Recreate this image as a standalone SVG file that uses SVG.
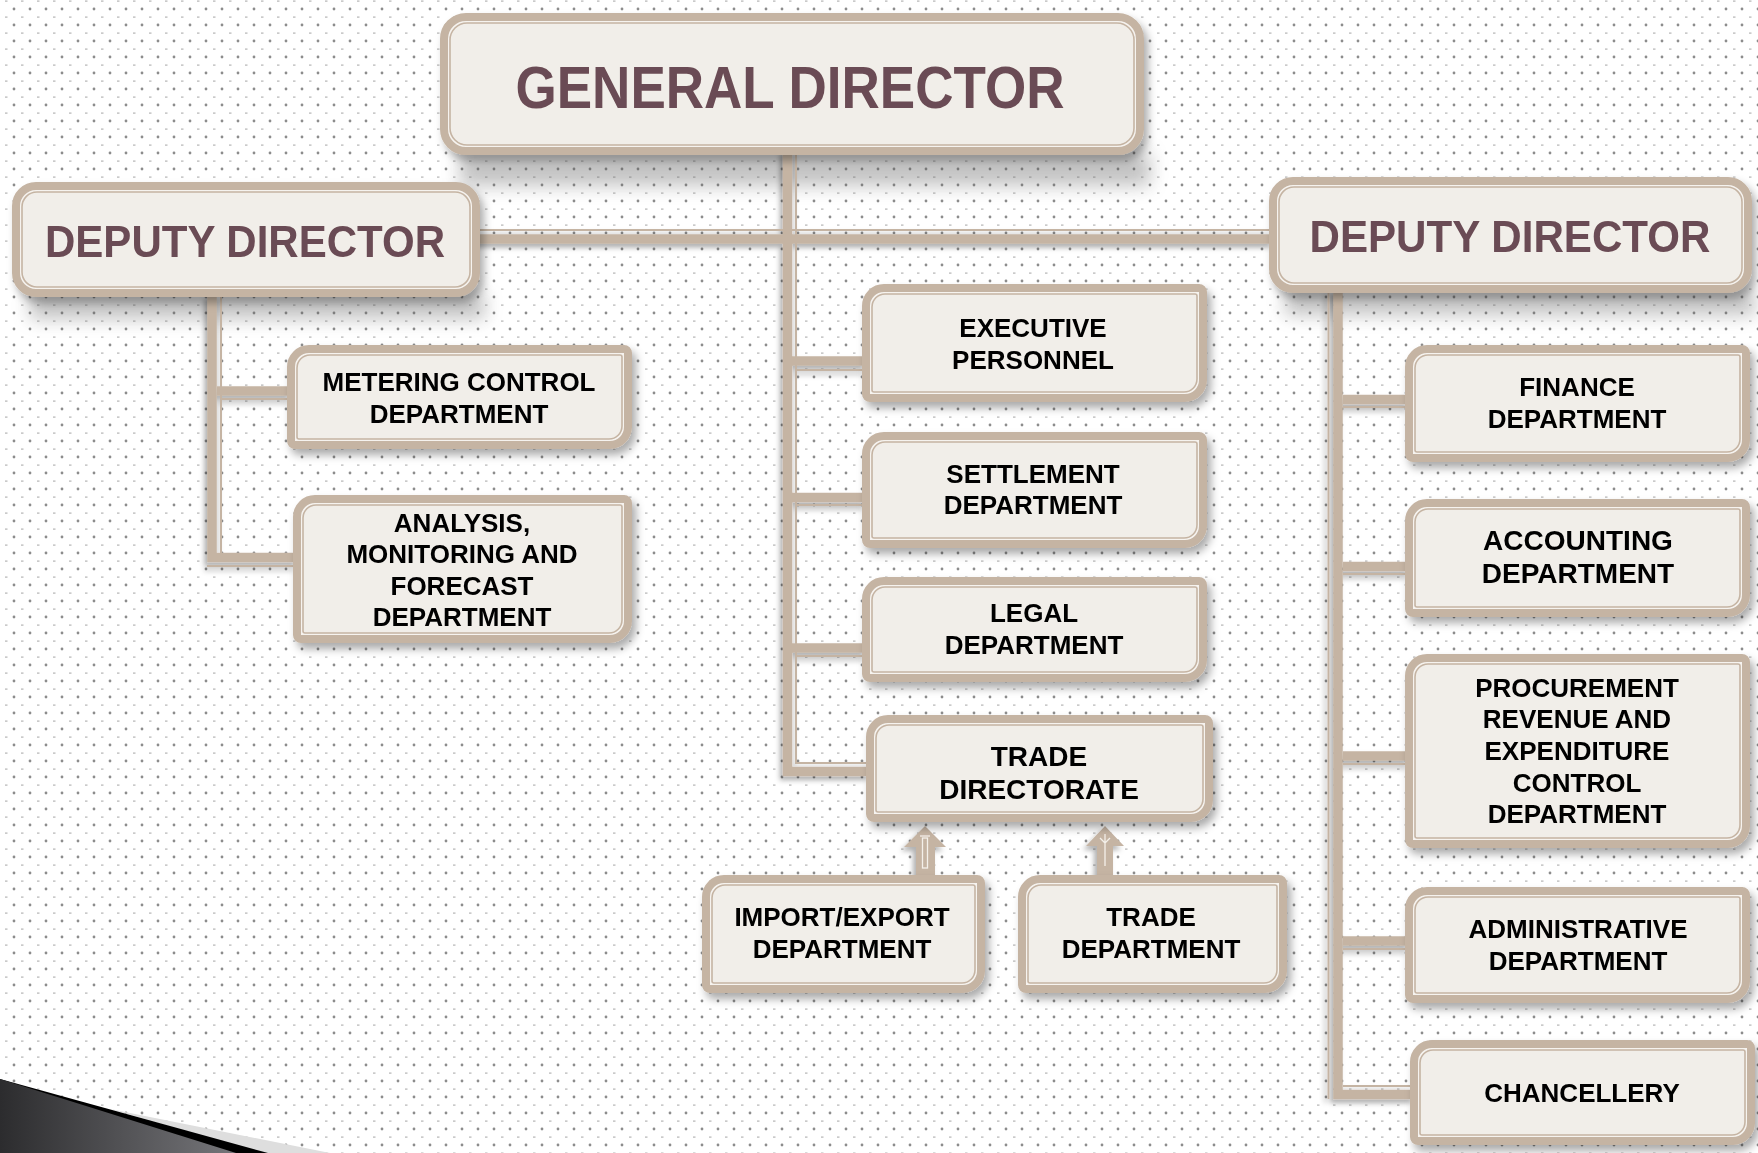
<svg xmlns="http://www.w3.org/2000/svg" width="1758" height="1153" viewBox="0 0 1758 1153">
<defs>
<style>
.ob{fill:#F6F3EF;stroke:#C5B4A3;stroke-width:8}
.ib{fill:#F1EEE9;stroke:#C5B4A3;stroke-width:1.6}
.ct{stroke:#C5B4A3;stroke-width:9.5;fill:none}
.cl{stroke:#C5B4A3;stroke-width:2;fill:none}
.t{font-family:"Liberation Sans",Arial,sans-serif;font-weight:bold;font-size:26px;fill:#000;text-anchor:middle}
.t28{font-size:28px}
.h{font-family:"Liberation Sans",Arial,sans-serif;font-weight:bold;fill:#6B4C54;text-anchor:middle}
.ar{fill:#C5B4A3}
.ad{fill:none;stroke:#F4F0EA;stroke-width:1.3}
</style>
<pattern id="dots" width="16" height="16" patternUnits="userSpaceOnUse">
<circle cx="14" cy="9" r="1.4" fill="#8c8c8c"/>
<rect x="5" y="0.5" width="2.5" height="1.2" fill="#b4b4b4"/>
</pattern>
<filter id="bs" x="-10%" y="-10%" width="130%" height="140%">
<feDropShadow dx="4" dy="6" stdDeviation="4" flood-color="#000" flood-opacity="0.33"/>
</filter>
<filter id="cs" x="-20%" y="-20%" width="140%" height="140%">
<feDropShadow dx="-3" dy="4" stdDeviation="2.5" flood-color="#000" flood-opacity="0.3"/>
</filter>
<filter id="blur" x="-20%" y="-100%" width="140%" height="300%">
<feGaussianBlur stdDeviation="9"/>
</filter>
<linearGradient id="sw" x1="0" y1="0" x2="1" y2="0">
<stop offset="0" stop-color="#2c2c2e"/>
<stop offset="1" stop-color="#76767a"/>
</linearGradient>
</defs>

<rect width="1758" height="1153" fill="#ffffff"/>
<rect width="1758" height="1153" fill="url(#dots)"/>

<!-- soft perspective shadows under head boxes -->
<g opacity="0.35" filter="url(#blur)">
<rect x="460" y="152" width="690" height="34" fill="#555"/>
<rect x="30" y="293" width="455" height="26" fill="#555"/>
<rect x="1285" y="289" width="470" height="26" fill="#555"/>
</g>

<g id="connectors" filter="url(#cs)">
<path class="ct" d="M787.5,150 V771.5 H870"/>
<path class="cl" d="M796,150 V763 H870"/>
<path class="ct" d="M476,239 H1273"/>
<path class="cl" d="M476,230 H783 M792,230 H1273"/>
<path class="ct" d="M792,361 H866"/>
<path class="cl" d="M796,370 H866"/>
<path class="ct" d="M792,497.5 H866"/>
<path class="cl" d="M796,505 H866"/>
<path class="ct" d="M792,648 H866"/>
<path class="cl" d="M796,656 H866"/>
<path class="ct" d="M212,295 V557.5 H297"/>
<path class="cl" d="M221,295 V553"/>
<path class="cl" d="M207,566 H297"/>
<path class="ct" d="M217,391 H291"/>
<path class="cl" d="M221,399 H291"/>
<path class="ct" d="M1338,290 V1094.5 H1414"/>
<path class="cl" d="M1328.5,290 V1099"/>
<path class="cl" d="M1343,1086 H1412"/>
<path class="ct" d="M1343,399.5 H1409"/>
<path class="cl" d="M1343,407 H1409"/>
<path class="ct" d="M1343,566.5 H1409"/>
<path class="cl" d="M1343,574 H1409"/>
<path class="ct" d="M1343,756 H1409"/>
<path class="cl" d="M1343,764 H1409"/>
<path class="ct" d="M1343,941 H1409"/>
<path class="cl" d="M1343,949 H1409"/>
<polygon class="ar" points="925,826 946,847 935,847 935,879 916,879 916,847 904,847"/>
<rect class="ad" x="922.5" y="838" width="5" height="30"/>
<path class="ad" d="M920,836 H930"/>
<polygon class="ar" points="1105,826 1124,846 1113,846 1113,879 1097,879 1097,846 1086,846"/>
<path class="ad" d="M1105,834 V866 M1100,838 L1105,843 L1110,838"/>
</g>

<g id="general-director" filter="url(#bs)">
<rect class="ob" x="444" y="17" width="696" height="134" rx="22"/>
<rect class="ib" x="450" y="23" width="684" height="122" rx="17"/>
<text class="h" x="790" y="108" font-size="60" textLength="549" lengthAdjust="spacingAndGlyphs">GENERAL DIRECTOR</text>
</g>

<g id="deputy-director-left" filter="url(#bs)">
<rect class="ob" x="16" y="186" width="460" height="107" rx="20"/>
<rect class="ib" x="22" y="192" width="448" height="95" rx="15"/>
<text class="h" x="245" y="257" font-size="44" textLength="400" lengthAdjust="spacingAndGlyphs">DEPUTY DIRECTOR</text>
</g>

<g id="deputy-director-right" filter="url(#bs)">
<rect class="ob" x="1273" y="181" width="475" height="108" rx="20"/>
<rect class="ib" x="1279" y="187" width="463" height="96" rx="15"/>
<text class="h" x="1510" y="252" font-size="44" textLength="401" lengthAdjust="spacingAndGlyphs">DEPUTY DIRECTOR</text>
</g>

<g id="metering-control" filter="url(#bs)">
<path class="ob" d="M309,349 H624 A4 4 0 0 1 628,353 V427 A18 18 0 0 1 610,445 H295 A4 4 0 0 1 291,441 V367 A18 18 0 0 1 309,349 Z"/>
<path class="ib" d="M310,355 H620 A2 2 0 0 1 622,357 V426 A13 13 0 0 1 609,439 H299 A2 2 0 0 1 297,437 V368 A13 13 0 0 1 310,355 Z"/>
<text class="t" x="459" y="391">METERING CONTROL</text>
<text class="t" x="459" y="423">DEPARTMENT</text>
</g>

<g id="analysis-monitoring" filter="url(#bs)">
<path class="ob" d="M315,499 H624 A4 4 0 0 1 628,503 V621 A18 18 0 0 1 610,639 H301 A4 4 0 0 1 297,635 V517 A18 18 0 0 1 315,499 Z"/>
<path class="ib" d="M316,505 H620 A2 2 0 0 1 622,507 V620 A13 13 0 0 1 609,633 H305 A2 2 0 0 1 303,631 V518 A13 13 0 0 1 316,505 Z"/>
<text class="t" x="462" y="532">ANALYSIS,</text>
<text class="t" x="462" y="563">MONITORING AND</text>
<text class="t" x="462" y="595">FORECAST</text>
<text class="t" x="462" y="626">DEPARTMENT</text>
</g>

<g id="executive-personnel" filter="url(#bs)">
<path class="ob" d="M884,288 H1199 A4 4 0 0 1 1203,292 V380 A18 18 0 0 1 1185,398 H870 A4 4 0 0 1 866,394 V306 A18 18 0 0 1 884,288 Z"/>
<path class="ib" d="M885,294 H1195 A2 2 0 0 1 1197,296 V379 A13 13 0 0 1 1184,392 H874 A2 2 0 0 1 872,390 V307 A13 13 0 0 1 885,294 Z"/>
<text class="t" x="1033" y="337">EXECUTIVE</text>
<text class="t" x="1033" y="369">PERSONNEL</text>
</g>

<g id="settlement" filter="url(#bs)">
<path class="ob" d="M884,436 H1199 A4 4 0 0 1 1203,440 V526 A18 18 0 0 1 1185,544 H870 A4 4 0 0 1 866,540 V454 A18 18 0 0 1 884,436 Z"/>
<path class="ib" d="M885,442 H1195 A2 2 0 0 1 1197,444 V525 A13 13 0 0 1 1184,538 H874 A2 2 0 0 1 872,536 V455 A13 13 0 0 1 885,442 Z"/>
<text class="t" x="1033" y="483">SETTLEMENT</text>
<text class="t" x="1033" y="514">DEPARTMENT</text>
</g>

<g id="legal" filter="url(#bs)">
<path class="ob" d="M884,581 H1199 A4 4 0 0 1 1203,585 V660 A18 18 0 0 1 1185,678 H870 A4 4 0 0 1 866,674 V599 A18 18 0 0 1 884,581 Z"/>
<path class="ib" d="M885,587 H1195 A2 2 0 0 1 1197,589 V659 A13 13 0 0 1 1184,672 H874 A2 2 0 0 1 872,670 V600 A13 13 0 0 1 885,587 Z"/>
<text class="t" x="1034" y="622">LEGAL</text>
<text class="t" x="1034" y="654">DEPARTMENT</text>
</g>

<g id="trade-directorate" filter="url(#bs)">
<path class="ob" d="M888,719 H1205 A4 4 0 0 1 1209,723 V800 A18 18 0 0 1 1191,818 H874 A4 4 0 0 1 870,814 V737 A18 18 0 0 1 888,719 Z"/>
<path class="ib" d="M889,725 H1201 A2 2 0 0 1 1203,727 V799 A13 13 0 0 1 1190,812 H878 A2 2 0 0 1 876,810 V738 A13 13 0 0 1 889,725 Z"/>
<text class="t t28" x="1039" y="766">TRADE</text>
<text class="t t28" x="1039" y="799">DIRECTORATE</text>
</g>

<g id="import-export" filter="url(#bs)">
<path class="ob" d="M724,879 H977 A4 4 0 0 1 981,883 V971 A18 18 0 0 1 963,989 H710 A4 4 0 0 1 706,985 V897 A18 18 0 0 1 724,879 Z"/>
<path class="ib" d="M725,885 H973 A2 2 0 0 1 975,887 V970 A13 13 0 0 1 962,983 H714 A2 2 0 0 1 712,981 V898 A13 13 0 0 1 725,885 Z"/>
<text class="t" x="842" y="926">IMPORT/EXPORT</text>
<text class="t" x="842" y="958">DEPARTMENT</text>
</g>

<g id="trade-department" filter="url(#bs)">
<path class="ob" d="M1040,879 H1279 A4 4 0 0 1 1283,883 V971 A18 18 0 0 1 1265,989 H1026 A4 4 0 0 1 1022,985 V897 A18 18 0 0 1 1040,879 Z"/>
<path class="ib" d="M1041,885 H1275 A2 2 0 0 1 1277,887 V970 A13 13 0 0 1 1264,983 H1030 A2 2 0 0 1 1028,981 V898 A13 13 0 0 1 1041,885 Z"/>
<text class="t" x="1151" y="926">TRADE</text>
<text class="t" x="1151" y="958">DEPARTMENT</text>
</g>

<g id="finance" filter="url(#bs)">
<path class="ob" d="M1427,349 H1742 A4 4 0 0 1 1746,353 V440 A18 18 0 0 1 1728,458 H1413 A4 4 0 0 1 1409,454 V367 A18 18 0 0 1 1427,349 Z"/>
<path class="ib" d="M1428,355 H1738 A2 2 0 0 1 1740,357 V439 A13 13 0 0 1 1727,452 H1417 A2 2 0 0 1 1415,450 V368 A13 13 0 0 1 1428,355 Z"/>
<text class="t" x="1577" y="396">FINANCE</text>
<text class="t" x="1577" y="428">DEPARTMENT</text>
</g>

<g id="accounting" filter="url(#bs)">
<path class="ob" d="M1427,503 H1742 A4 4 0 0 1 1746,507 V595 A18 18 0 0 1 1728,613 H1413 A4 4 0 0 1 1409,609 V521 A18 18 0 0 1 1427,503 Z"/>
<path class="ib" d="M1428,509 H1738 A2 2 0 0 1 1740,511 V594 A13 13 0 0 1 1727,607 H1417 A2 2 0 0 1 1415,605 V522 A13 13 0 0 1 1428,509 Z"/>
<text class="t t28" x="1578" y="550">ACCOUNTING</text>
<text class="t t28" x="1578" y="583">DEPARTMENT</text>
</g>

<g id="procurement" filter="url(#bs)">
<path class="ob" d="M1427,658 H1742 A4 4 0 0 1 1746,662 V826 A18 18 0 0 1 1728,844 H1413 A4 4 0 0 1 1409,840 V676 A18 18 0 0 1 1427,658 Z"/>
<path class="ib" d="M1428,664 H1738 A2 2 0 0 1 1740,666 V825 A13 13 0 0 1 1727,838 H1417 A2 2 0 0 1 1415,836 V677 A13 13 0 0 1 1428,664 Z"/>
<text class="t" x="1577" y="697">PROCUREMENT</text>
<text class="t" x="1577" y="728">REVENUE AND</text>
<text class="t" x="1577" y="760">EXPENDITURE</text>
<text class="t" x="1577" y="792">CONTROL</text>
<text class="t" x="1577" y="823">DEPARTMENT</text>
</g>

<g id="administrative" filter="url(#bs)">
<path class="ob" d="M1427,891 H1742 A4 4 0 0 1 1746,895 V981 A18 18 0 0 1 1728,999 H1413 A4 4 0 0 1 1409,995 V909 A18 18 0 0 1 1427,891 Z"/>
<path class="ib" d="M1428,897 H1738 A2 2 0 0 1 1740,899 V980 A13 13 0 0 1 1727,993 H1417 A2 2 0 0 1 1415,991 V910 A13 13 0 0 1 1428,897 Z"/>
<text class="t" x="1578" y="938">ADMINISTRATIVE</text>
<text class="t" x="1578" y="970">DEPARTMENT</text>
</g>

<g id="chancellery" filter="url(#bs)">
<path class="ob" d="M1432,1044 H1747 A4 4 0 0 1 1751,1048 V1123 A18 18 0 0 1 1733,1141 H1418 A4 4 0 0 1 1414,1137 V1062 A18 18 0 0 1 1432,1044 Z"/>
<path class="ib" d="M1433,1050 H1743 A2 2 0 0 1 1745,1052 V1122 A13 13 0 0 1 1732,1135 H1422 A2 2 0 0 1 1420,1133 V1063 A13 13 0 0 1 1433,1050 Z"/>
<text class="t" x="1582" y="1102">CHANCELLERY</text>
</g>

<g id="corner-swoosh">
<polygon points="110,1109 330,1153 262,1153" fill="#dedede"/>
<polygon points="0,1079 268,1153 0,1153" fill="#000"/>
<polygon points="0,1079 236,1153 0,1153" fill="url(#sw)"/>
</g>
</svg>
